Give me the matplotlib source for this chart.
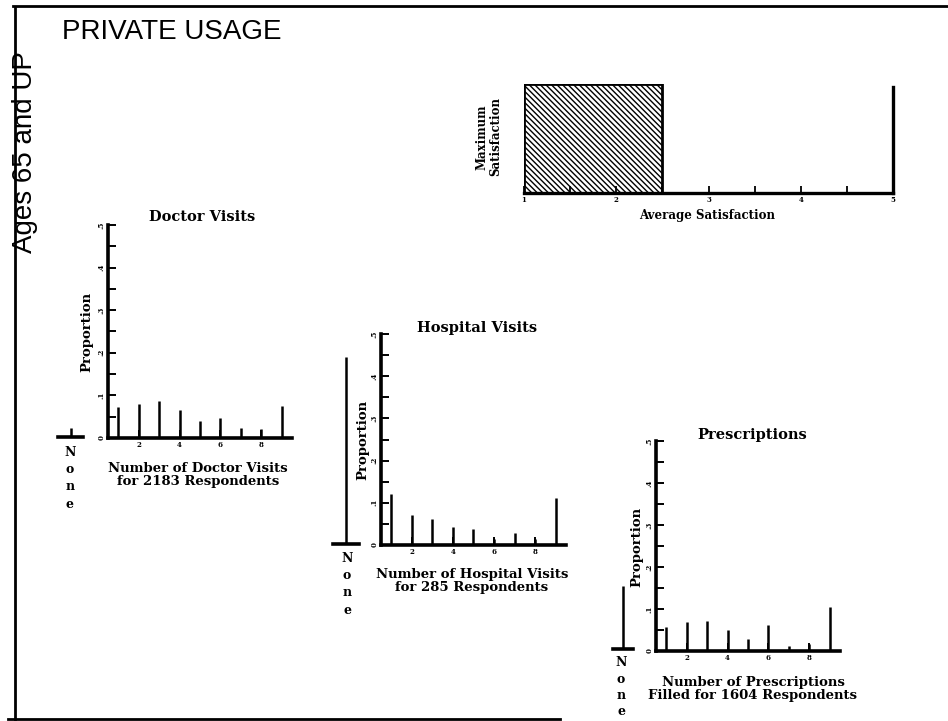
import matplotlib
matplotlib.use("Agg")
import matplotlib.pyplot as plt
from matplotlib.lines import Line2D
import numpy as np

# ------------------------------------------------------------
# Datos
# ------------------------------------------------------------
W, H = 948, 721

visits = [1, 2, 3, 4, 5, 6, 7, 8, 9]
visit_ticks = [2, 4, 6, 8]

doctor_props = [0.073, 0.080, 0.087, 0.066, 0.041, 0.048, 0.023, 0.020, 0.075]
hospital_props = [0.120, 0.071, 0.061, 0.043, 0.037, 0.015, 0.028, 0.015, 0.111]
rx_props = [0.057, 0.068, 0.071, 0.051, 0.029, 0.063, 0.013, 0.017, 0.104]

doctor_none = 0.022
hospital_none = 0.44
rx_none = 0.147

prop_ticks = [0, 0.1, 0.2, 0.3, 0.4, 0.5]
prop_labels = ["0", ".1", ".2", ".3", ".4", ".5"]

avg_satisfaction = 2.5
sat_ticks = [1, 2, 3, 4, 5]

SERIF = "DejaVu Serif"


def px_axes(fig, x0, y0, x1, y1):
    # caja en pixeles (origen arriba a la izquierda)
    return fig.add_axes([x0 / W, 1 - y1 / H, (x1 - x0) / W, (y1 - y0) / H])


def fx(x):
    return x / W


def fy(y):
    return 1 - y / H


def panel(fig, box, none_box, props, none_prop, title, title_xy,
          xlabel, xlabel_xy, ylab_xy, none_xy, none_step=17.5):
    ax = px_axes(fig, *box)
    ax.vlines(visits, 0, props, color="black", lw=1.8)
    ax.set_xlim(0.5, 9.5)
    ax.set_ylim(0, 0.5)
    for s in ["top", "right"]:
        ax.spines[s].set_visible(False)
    for s in ["left", "bottom"]:
        ax.spines[s].set_linewidth(2.6)
    ax.set_yticks(prop_ticks)
    ax.set_yticklabels(prop_labels, rotation=90, fontsize=5, fontweight="bold",
                       family=SERIF, va="center")
    ax.set_yticks(np.arange(0.05, 0.5, 0.1), minor=True)
    ax.set_xticks(visit_ticks)
    ax.set_xticklabels([str(v) for v in visit_ticks], fontsize=5,
                       fontweight="bold", family=SERIF)
    ax.tick_params(which="both", direction="in", length=6, width=1.4, pad=2)

    # columna "None"
    axn = px_axes(fig, *none_box)
    axn.vlines([0.5], 0, [none_prop], color="black", lw=1.8)
    axn.set_xlim(0, 1)
    axn.set_ylim(0, 0.5)
    for s in ["top", "right", "left"]:
        axn.spines[s].set_visible(False)
    axn.spines["bottom"].set_linewidth(2.6)
    axn.set_xticks([])
    axn.set_yticks([])

    fig.text(fx(title_xy[0]), fy(title_xy[1]), title, ha="center", va="center",
             fontsize=10.5, fontweight="bold", family=SERIF)
    fig.text(fx(xlabel_xy[0]), fy(xlabel_xy[1]), xlabel, ha="center", va="center",
             fontsize=9.5, fontweight="bold", family=SERIF, linespacing=1.05)
    fig.text(fx(ylab_xy[0]), fy(ylab_xy[1]), "Proportion", ha="center", va="center",
             rotation=90, fontsize=9.5, fontweight="bold", family=SERIF)
    for i, ch in enumerate("None"):
        fig.text(fx(none_xy[0]), fy(none_xy[1] + i * none_step), ch, ha="center",
                 va="center", fontsize=9, fontweight="bold", family=SERIF)
    return ax


fig = plt.figure(figsize=(W / 100, H / 100), dpi=100)
plt.rcParams["hatch.linewidth"] = 1.0

# marco
fig.add_artist(Line2D([fx(15), fx(15)], [fy(8), fy(719)], color="black", lw=2))
fig.add_artist(Line2D([fx(13), fx(948)], [fy(6), fy(6)], color="black", lw=2))
fig.add_artist(Line2D([fx(8), fx(560)], [fy(719), fy(719)], color="black", lw=2))

fig.text(fx(62), fy(32), "PRIVATE USAGE", ha="left", va="center",
         fontsize=20, family="Liberation Sans")
fig.text(fx(25), fy(152), "Ages 65 and UP", ha="center", va="center",
         rotation=90, fontsize=20, family="Liberation Sans")

panel(fig, (108, 225, 292, 438), (58, 224, 83, 437), doctor_props, doctor_none,
      "Doctor Visits", (202, 217),
      "Number of Doctor Visits\nfor 2183 Respondents", (198, 475),
      (87, 332), (70, 452))

panel(fig, (381, 334, 566, 545), (333, 331, 359, 544), hospital_props, hospital_none,
      "Hospital Visits", (477, 328),
      "Number of Hospital Visits\nfor 285 Respondents", (472, 581),
      (363, 440), (347, 558))

panel(fig, (656, 441, 840, 651), (613, 436, 633, 649), rx_props, rx_none,
      "Prescriptions", (752, 435),
      "Number of Prescriptions\nFilled for 1604 Respondents", (753, 689),
      (637, 547), (621, 663), none_step=16.2)

# satisfaccion promedio
ax_s = px_axes(fig, 524, 84, 893, 193)
ax_s.bar([1], [1], width=avg_satisfaction - 1, align="edge", color="white",
         edgecolor="black", lw=2, hatch="\\" * 6)
ax_s.set_xlim(1, 5)
ax_s.set_ylim(0, 1)
ax_s.spines["top"].set_visible(False)
ax_s.spines["left"].set_visible(False)
ax_s.spines["bottom"].set_linewidth(2.4)
ax_s.spines["right"].set_linewidth(2.4)
ax_s.spines["right"].set_bounds(0, 0.97)
ax_s.set_yticks([])
ax_s.set_xticks(sat_ticks)
ax_s.set_xticklabels([str(v) for v in sat_ticks], fontsize=5, fontweight="bold",
                     family=SERIF)
ax_s.set_xticks(np.arange(1.5, 5, 1.0), minor=True)
ax_s.tick_params(which="both", direction="in", length=5, width=1.3, pad=2)

fig.text(fx(489), fy(137), "Maximum\nSatisfaction", ha="center", va="center",
         rotation=90, fontsize=8.5, fontweight="bold", family=SERIF, linespacing=1.1)
fig.text(fx(707), fy(215), "Average Satisfaction", ha="center", va="center",
         fontsize=8.5, fontweight="bold", family=SERIF)

fig.savefig("out.png", dpi=100)
